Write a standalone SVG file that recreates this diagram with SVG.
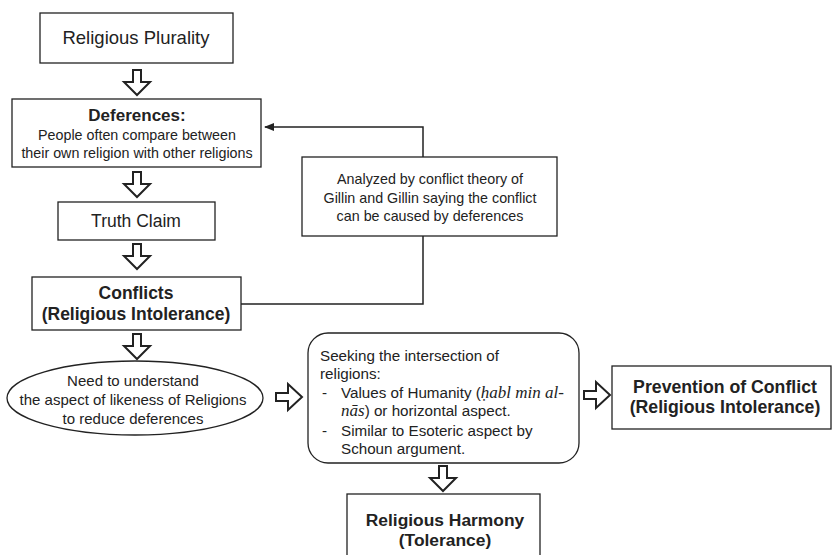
<svg xmlns="http://www.w3.org/2000/svg" width="832" height="555" viewBox="0 0 832 555">
<style>
.box{fill:#fff;stroke:#222;stroke-width:1.3}
.t{font-family:"Liberation Sans",Arial,sans-serif;fill:#222;text-anchor:middle}
.l{font-family:"Liberation Sans",Arial,sans-serif;fill:#222}
.b{font-weight:bold}
.it{font-family:"Liberation Serif","DejaVu Serif",serif;font-style:italic}
.ha{fill:#fff;stroke:#222;stroke-width:2;stroke-linejoin:miter}
.line{fill:none;stroke:#222;stroke-width:1.5}
</style>
<defs>
<path id="down" d="M-4,0 h8 v12 h9 l-13,13 l-13,-13 h9 z"/>
<path id="right" d="M0,-4 v8 h12 v9 l14,-13 l-14,-13 v9 z"/>
<marker id="ah" markerWidth="10" markerHeight="8" refX="9" refY="4" orient="auto" markerUnits="userSpaceOnUse">
<path d="M0,0 L10,4 L0,8 z" fill="#222"/>
</marker>
</defs>
<rect width="832" height="555" fill="#fff"/>
<g id="connectors">
<path class="line" d="M423,157 V127 H265" marker-end="url(#ah)"/>
<path class="line" d="M423,236 V304 H241"/>
<use href="#down" class="ha" x="137" y="70"/>
<use href="#down" class="ha" x="137" y="172"/>
<use href="#down" class="ha" x="137" y="244"/>
<use href="#down" class="ha" x="137" y="334"/>
<use href="#right" class="ha" x="276" y="397"/>
<use href="#right" class="ha" x="584" y="395"/>
<use href="#down" class="ha" x="443" y="466"/>
</g>
<g id="plurality">
<rect class="box" x="40" y="13" width="193" height="50"/>
<text class="t" x="136" y="44" font-size="18.5">Religious Plurality</text>
</g>
<g id="deferences">
<rect class="box" x="12" y="99" width="249" height="68"/>
<text class="t b" x="137" y="121" font-size="17">Deferences:</text>
<text class="t" x="137" y="140" font-size="14.3">People often compare between</text>
<text class="t" x="137" y="158" font-size="14.3">their own religion with other religions</text>
</g>
<g id="analyzed">
<rect class="box" x="302" y="157" width="255" height="79"/>
<text class="t" x="430" y="184" font-size="14.3">Analyzed by conflict theory of</text>
<text class="t" x="430" y="203" font-size="14.3">Gillin and Gillin saying the conflict</text>
<text class="t" x="430" y="221" font-size="14.3">can be caused by deferences</text>
</g>
<g id="truth">
<rect class="box" x="58" y="202" width="157" height="38"/>
<text class="t" x="136" y="227" font-size="17.5">Truth Claim</text>
</g>
<g id="conflicts">
<rect class="box" x="32" y="277" width="209" height="53"/>
<text class="t b" x="136" y="299" font-size="17.5">Conflicts</text>
<text class="t b" x="136" y="320" font-size="17.5">(Religious Intolerance)</text>
</g>
<g id="need">
<ellipse class="box" cx="135" cy="398" rx="128" ry="37"/>
<text class="t" x="133" y="386" font-size="15">Need to understand</text>
<text class="t" x="133" y="405" font-size="15">the aspect of likeness of Religions</text>
<text class="t" x="133" y="424" font-size="15">to reduce deferences</text>
</g>
<g id="seeking">
<rect class="box" x="308" y="333" width="271" height="130" rx="20" ry="20"/>
<text class="l" x="320" y="361" font-size="15.2">Seeking the intersection of</text>
<text class="l" x="320" y="379" font-size="15.2">religions:</text>
<text class="l" x="322" y="398" font-size="15.2">-</text>
<text class="l" x="341" y="398" font-size="15.2">Values of Humanity (<tspan class="it" font-size="17">ḥabl min al-</tspan></text>
<text class="l" x="341" y="416" font-size="15.2"><tspan class="it" font-size="17">nās</tspan>) or horizontal aspect.</text>
<text class="l" x="322" y="436" font-size="15.2">-</text>
<text class="l" x="341" y="436" font-size="15.2">Similar to Esoteric aspect by</text>
<text class="l" x="341" y="454" font-size="15.2">Schoun argument.</text>
</g>
<g id="prevention">
<rect class="box" x="612" y="366" width="219" height="63"/>
<text class="t b" x="725" y="393" font-size="17.7">Prevention of Conflict</text>
<text class="t b" x="725" y="413" font-size="17.7">(Religious Intolerance)</text>
</g>
<g id="harmony">
<rect class="box" x="347" y="494" width="193" height="70"/>
<text class="t b" x="445" y="526" font-size="17.4">Religious Harmony</text>
<text class="t b" x="445" y="546" font-size="17.4">(Tolerance)</text>
</g>
</svg>
